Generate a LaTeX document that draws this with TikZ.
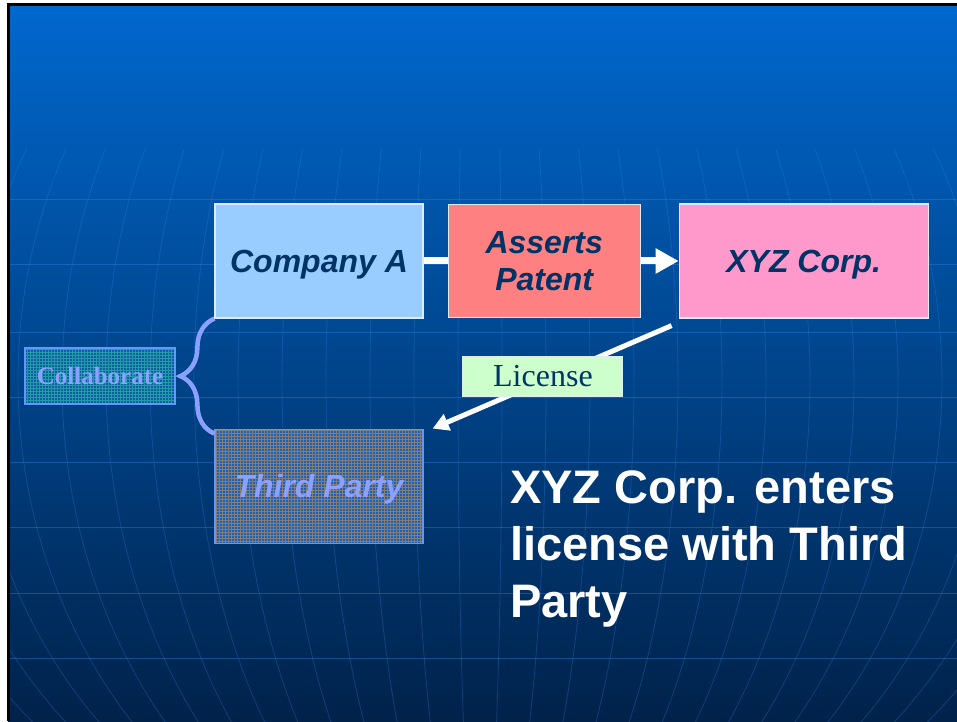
\documentclass[tikz,border=0pt]{standalone}
\usepackage{fontspec}
\setmainfont{Liberation Serif}
\newfontfamily\arialfont{Liberation Sans}
\usetikzlibrary{positioning,arrows.meta,decorations.pathreplacing,patterns}
\definecolor{slidetop}{RGB}{0,104,206}
\definecolor{slidemid}{RGB}{0,80,158}
\definecolor{slidebot}{RGB}{0,34,74}
\definecolor{gridblue}{RGB}{50,130,225}
\definecolor{navytext}{RGB}{0,51,102}
\definecolor{boxedge}{RGB}{225,235,245}
\definecolor{compblue}{RGB}{153,204,255}
\definecolor{patsalmon}{RGB}{255,128,128}
\definecolor{xyzpink}{RGB}{255,153,204}
\definecolor{licgreen}{RGB}{204,255,204}
\definecolor{periwinkle}{RGB}{140,160,255}
\definecolor{dimedge}{RGB}{100,150,255}
\definecolor{collabbase}{RGB}{15,95,155}
\definecolor{collabdots}{RGB}{35,155,175}
\definecolor{thirdbase}{RGB}{35,95,180}
\definecolor{thirddots}{RGB}{130,128,118}
\tikzstyle{party}=[rectangle,draw=boxedge,line width=1.2pt,minimum height=114pt,inner sep=0pt,align=center,font=\arialfont\bfseries\itshape\fontsize{32}{37}\selectfont,text=navytext]
\tikzstyle{faded}=[party,draw=dimedge,text=periwinkle,preaction={fill=thirdbase},pattern=grid,pattern color=thirddots]
\tikzstyle{collabbox}=[rectangle,draw=dimedge,line width=1.2pt,minimum width=150pt,minimum height=56pt,preaction={fill=collabbase},pattern=grid,pattern color=collabdots,text=periwinkle,font=\bfseries\fontsize{25}{30}\selectfont]
\tikzstyle{lic}=[rectangle,fill=licgreen,draw=boxedge,line width=1pt,minimum width=160pt,minimum height=40pt,text=navytext,font=\fontsize{32}{36}\selectfont]
\tikzstyle{gridline}=[gridblue,line width=1pt,opacity=0.4]
\tikzstyle{meridian}=[gridblue,line width=0.8pt,opacity=0.3]
\tikzstyle{flow}=[draw,white,line width=7pt,-{Triangle[length=23pt,width=24pt]}]

\begin{document}
\begin{tikzpicture}[x=1pt,y=1pt]
  \useasboundingbox (0,0) rectangle (957,721);
  \fill[white] (0,0) rectangle (957,721);
  \shade[top color=slidetop,middle color=slidemid,bottom color=slidebot] (8,0) rectangle (957,716);
  \begin{scope}
    \clip (8,0) rectangle (957,571);
    \foreach \r in {22,66,...,600}
      \draw[meridian] (480,341) ellipse ({\r} and 520);
  \end{scope}
  \foreach \y in {63,128,194,259,324,389,456,521}
    \draw[gridline] (8,\y) -- (957,\y);
  \draw[line width=3pt] (8,0) -- (8,716) -- (957,716);

  \node(compA)[party,fill=compblue,minimum width=208pt,text depth=0pt] at (319,460) {Company A};
  \node(xyz)[party,fill=xyzpink,minimum width=249pt,text depth=0pt,right=255pt of compA] {XYZ Corp.};
  \path[flow] (compA) -- (xyz);
  \node(asserts)[party,fill=patsalmon,minimum width=192pt,minimum height=113pt,right=24pt of compA] {Asserts\\Patent};
  \node(third)[faded,minimum width=208pt,text depth=0pt,below=110pt of compA] {Third Party};
  \node(collab)[collabbox] at (100,345) {Collaborate};
  \draw[periwinkle,line width=4.5pt,decorate,decoration={brace,amplitude=34pt}]
    ([yshift=-5pt]third.north west) -- (compA.south west);

  \coordinate(licfrom) at ([shift={(-7pt,-7pt)}]xyz.south west);
  \coordinate(licto) at ([xshift=9pt]third.north east);
  \path[draw,white,line width=5pt,-{Triangle[length=16pt,width=17pt]}]
    (licfrom) -- node[lic,pos=0.53,xshift=-2pt,yshift=4pt]{License} (licto);

  \node(caption)[anchor=north west,inner sep=0pt,align=left,text=white,
    font=\arialfont\bfseries\fontsize{47}{57}\selectfont] at (510,251)
    {XYZ Corp. enters\\license with Third\\Party};
\end{tikzpicture}
\end{document}
